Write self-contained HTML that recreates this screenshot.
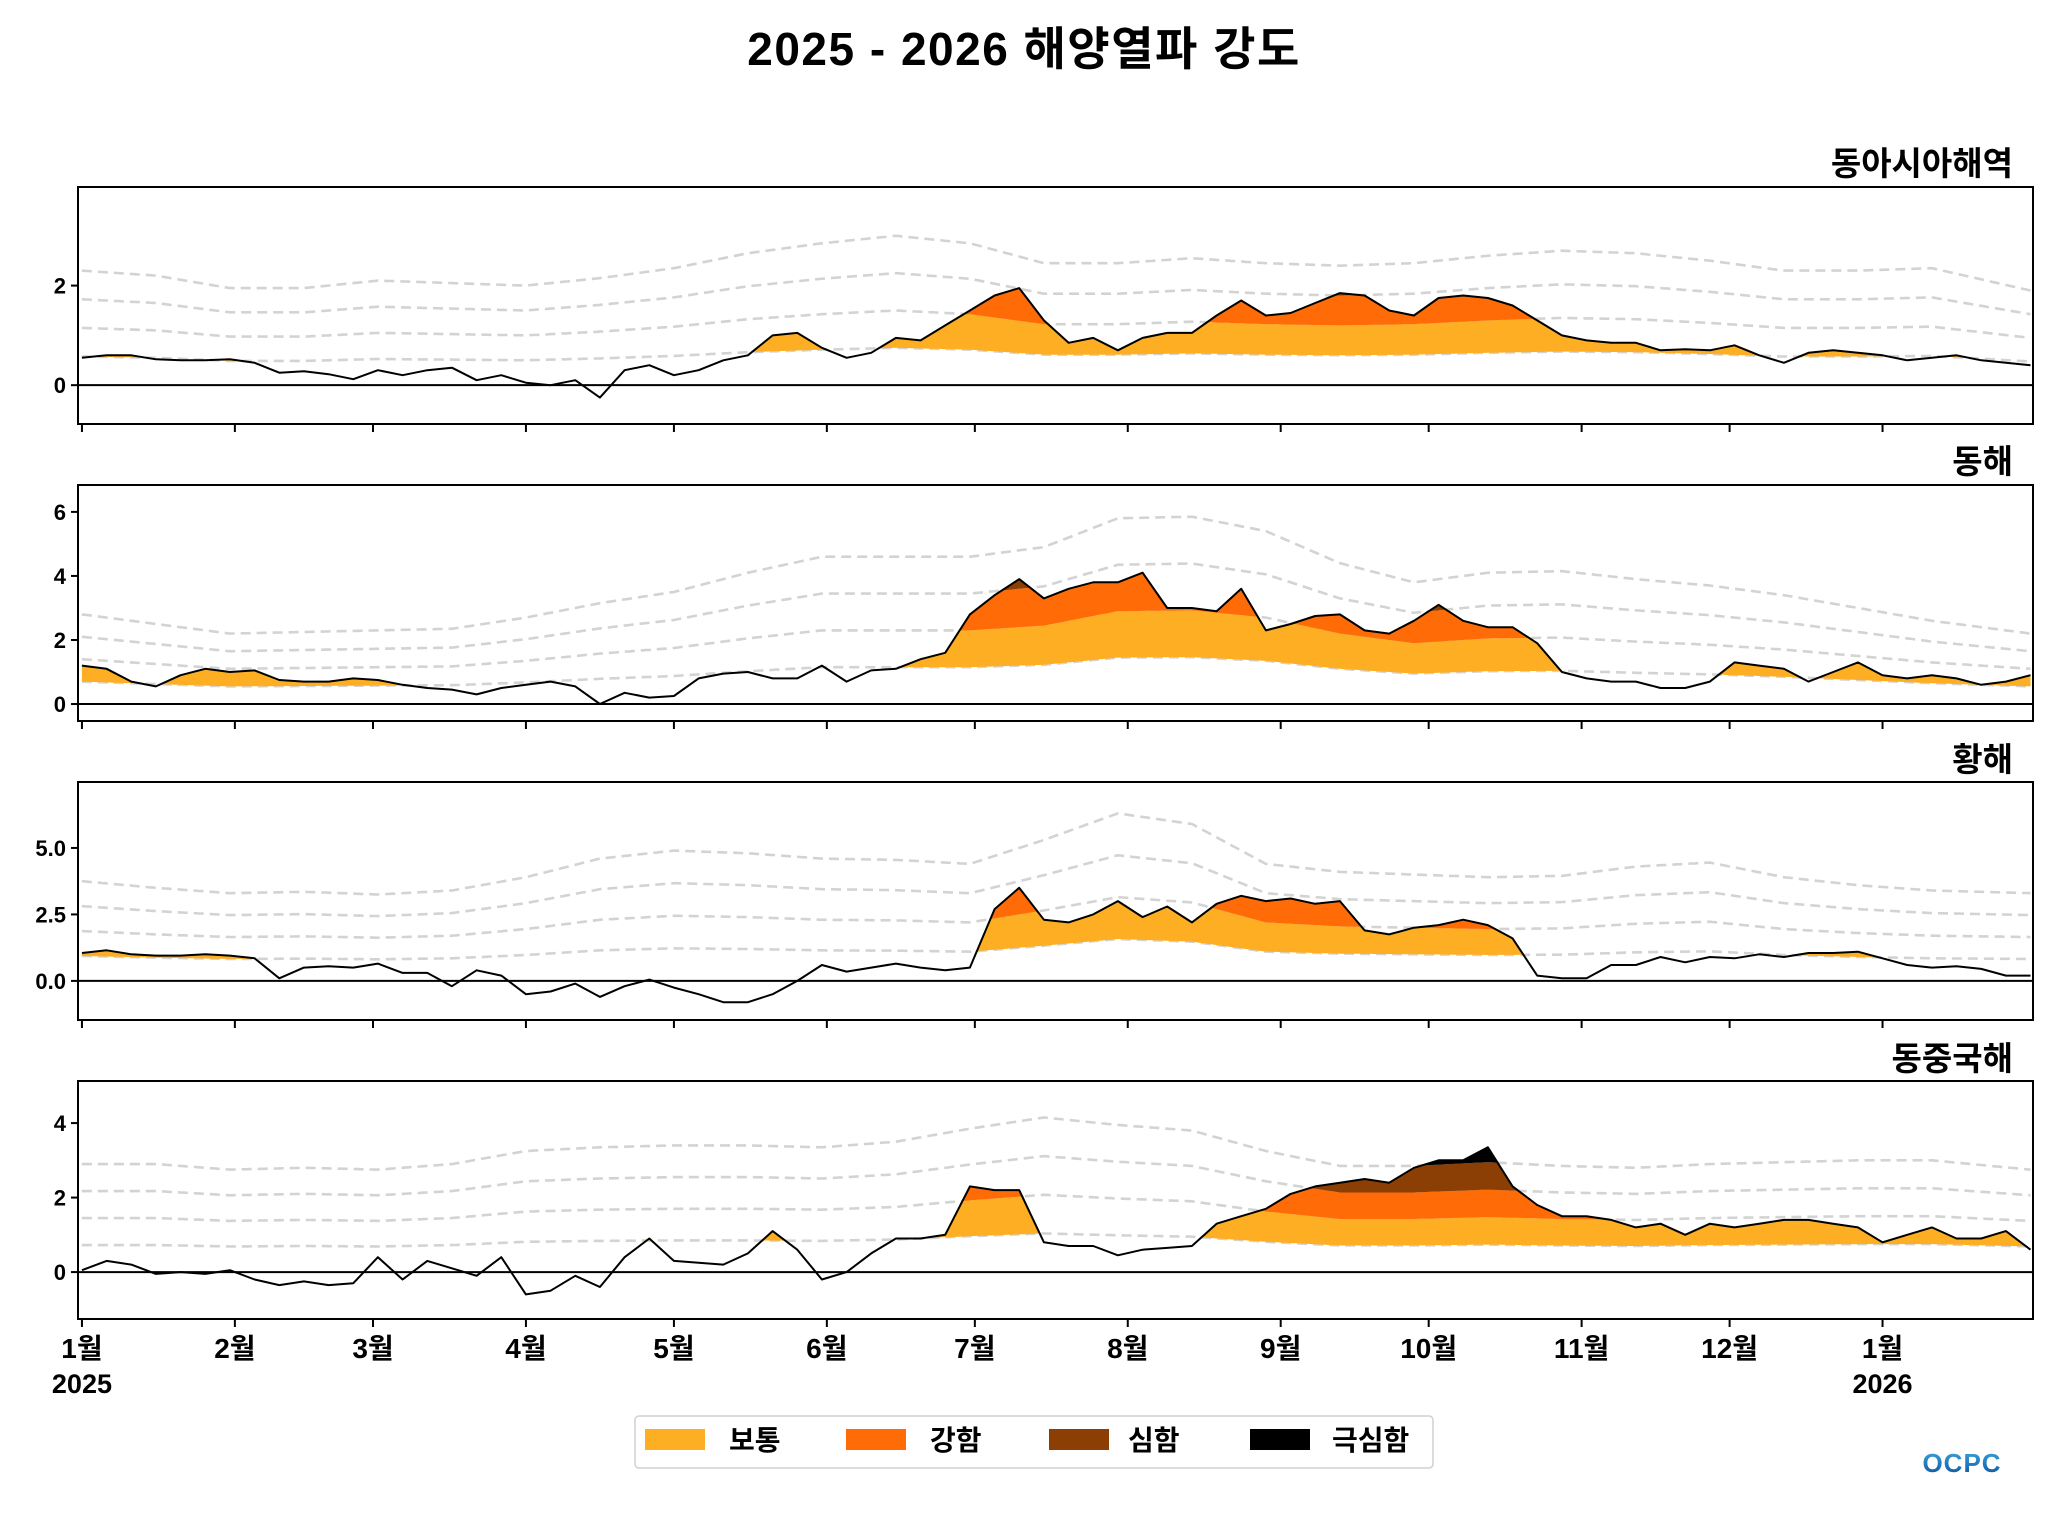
<!DOCTYPE html>
<html><head><meta charset="utf-8">
<style>
html,body{margin:0;padding:0;background:#fff;}
svg{display:block;font-family:"Liberation Sans","Noto Sans CJK KR",sans-serif;}
</style></head>
<body>
<svg id="chart" width="2048" height="1536" viewBox="0 0 2048 1536" xmlns="http://www.w3.org/2000/svg">
<rect width="2048" height="1536" fill="#fff"/>
<text x="1024" y="65" text-anchor="middle" font-size="46" font-weight="bold" letter-spacing="1.5">2025 - 2026 해양열파 강도</text>
<g id="panels"></g>
<g>
<rect x="635" y="1416" width="798" height="52" rx="4" fill="#fff" stroke="#d0d0d0" stroke-width="1.5"/>
<rect x="645" y="1429" width="60" height="21" fill="#FDAE22"/>
<text x="729" y="1450" font-size="28" font-weight="bold">보통</text>
<rect x="846" y="1429" width="60" height="21" fill="#FE6B07"/>
<text x="930" y="1450" font-size="28" font-weight="bold">강함</text>
<rect x="1049" y="1429" width="60" height="21" fill="#8B3F05"/>
<text x="1128" y="1450" font-size="28" font-weight="bold">심함</text>
<rect x="1250" y="1429" width="60" height="21" fill="#000"/>
<text x="1332" y="1450" font-size="28" font-weight="bold">극심함</text>
</g>
<defs><linearGradient id="lg" x1="0" y1="0" x2="0" y2="1"><stop offset="0" stop-color="#3fa9e0"/><stop offset="1" stop-color="#0a4f9e"/></linearGradient></defs>
<text x="1962" y="1472" text-anchor="middle" font-size="26" font-weight="bold" fill="url(#lg)" letter-spacing="1">OCPC</text>
</svg>
<script>
// ---------- data ----------
const tDays = [0,15,30,45,60,75,90,105,120,135,150,165,180,195,210,225,240,255,270,285,300,315,330,345,360,375,395];
const aDays = [0,5,10,15,20,25,30,35,40,45,50,55,60,65,70,75,80,85,90,95,100,105,110,115,120,125,130,135,140,145,150,155,160,165,170,175,180,185,190,195,200,205,210,215,220,225,230,235,240,245,250,255,260,265,270,275,280,285,290,295,300,305,310,315,320,325,330,335,340,345,350,355,360,365,370,375,380,385,390,395];
const panelNames = ["동아시아해역","동해","황해","동중국해"];
// top dashed line (4x threshold) per tDays
const topLine1 = [2.3,2.2,1.95,1.95,2.1,2.05,2.0,2.15,2.35,2.65,2.85,3.0,2.85,2.45,2.45,2.55,2.45,2.4,2.45,2.6,2.7,2.65,2.5,2.3,2.3,2.35,1.9];
const topLine2 = [2.8,2.5,2.2,2.25,2.3,2.35,2.7,3.15,3.5,4.1,4.6,4.6,4.6,4.9,5.8,5.85,5.4,4.4,3.8,4.1,4.15,3.9,3.7,3.4,3.0,2.6,2.2];
const topLine3 = [3.75,3.5,3.3,3.35,3.25,3.4,3.9,4.6,4.9,4.8,4.6,4.55,4.4,5.3,6.3,5.9,4.4,4.1,4.0,3.9,3.95,4.3,4.45,3.9,3.6,3.4,3.3];
const topLine4 = [2.9,2.9,2.75,2.8,2.75,2.9,3.25,3.35,3.4,3.4,3.35,3.5,3.85,4.15,3.95,3.8,3.25,2.85,2.85,2.95,2.85,2.8,2.9,2.95,3.0,3.0,2.75];
// SST anomaly per aDays
const anom1 = [.55,.6,.6,.52,.5,.5,.52,.45,.25,.28,.22,.12,.3,.2,.3,.35,.1,.2,.05,0,.1,-.25,.3,.4,.2,.3,.5,.6,1.0,1.05,.75,.55,.65,.95,.9,1.2,1.5,1.8,1.95,1.3,.85,.95,.7,.95,1.05,1.05,1.4,1.7,1.4,1.45,1.65,1.85,1.8,1.5,1.4,1.75,1.8,1.75,1.6,1.3,1.0,.9,.85,.85,.7,.72,.7,.8,.6,.45,.65,.7,.65,.6,.5,.55,.6,.5,.45,.4];
const anom2 = [1.2,1.1,.7,.55,.9,1.1,1.0,1.05,.75,.7,.7,.8,.75,.6,.5,.45,.3,.5,.6,.7,.55,0,.35,.2,.25,.8,.95,1.0,.8,.8,1.2,.7,1.05,1.1,1.4,1.6,2.8,3.4,3.9,3.3,3.6,3.8,3.8,4.1,3.0,3.0,2.9,3.6,2.3,2.5,2.75,2.8,2.3,2.2,2.6,3.1,2.6,2.4,2.4,1.9,1.0,.8,.7,.7,.5,.5,.7,1.3,1.2,1.1,.7,1.0,1.3,.9,.8,.9,.8,.6,.7,.9];
const anom3 = [1.05,1.15,1.0,.95,.95,1.0,.95,.85,.1,.5,.55,.5,.65,.3,.3,-.2,.4,.2,-.5,-.4,-.1,-.6,-.2,.05,-.25,-.5,-.8,-.8,-.5,0,.6,.35,.5,.65,.5,.4,.5,2.7,3.5,2.3,2.2,2.5,3.0,2.4,2.8,2.2,2.9,3.2,3.0,3.1,2.9,3.0,1.9,1.75,2.0,2.1,2.3,2.1,1.6,.2,.1,.1,.6,.6,.9,.7,.9,.85,1.0,.9,1.05,1.05,1.1,.85,.6,.5,.55,.45,.2,.2];
const anom4 = [.05,.3,.2,-.05,0,-.05,.05,-.2,-.35,-.25,-.35,-.3,.4,-.2,.3,.1,-.1,.4,-.6,-.5,-.1,-.4,.4,.9,.3,.25,.2,.5,1.1,.6,-.2,0,.5,.9,.9,1.0,2.3,2.2,2.2,.8,.7,.7,.45,.6,.65,.7,1.3,1.5,1.7,2.1,2.3,2.4,2.5,2.4,2.8,3.0,3.0,3.35,2.3,1.8,1.5,1.5,1.4,1.2,1.3,1.0,1.3,1.2,1.3,1.4,1.4,1.3,1.2,.8,1.0,1.2,.9,.9,1.1,.6];
const yTicks1 = [0,2], yTicks2 = [0,2,4,6], yTicks3 = [0,2.5,5.0], yTicks4 = [0,2,4];
const yTickLabels3 = ["0.0","2.5","5.0"];
const monthDays = [0,31,59,90,120,151,181,212,243,273,304,334,365];
const monthLabels = ["1월","2월","3월","4월","5월","6월","7월","8월","9월","10월","11월","12월","1월"];

// ---------- layout ----------
const X0=78, X1=2033, DAY0=-0.8, DAY1=395.5;
const xs = d => X0 + (d-DAY0)/(DAY1-DAY0)*(X1-X0);
const panels = [
 {top:187,bot:424,ymin:-0.78,ymax:3.98,tl:topLine1,an:anom1,ticks:yTicks1,labels:null,ty:163},
 {top:485,bot:721,ymin:-0.53,ymax:6.84,tl:topLine2,an:anom2,ticks:yTicks2,labels:null,ty:461},
 {top:782,bot:1020,ymin:-1.47,ymax:7.48,tl:topLine3,an:anom3,ticks:yTicks3,labels:yTickLabels3,ty:759},
 {top:1081,bot:1319,ymin:-1.26,ymax:5.13,tl:topLine4,an:anom4,ticks:yTicks4,labels:null,ty:1058}
];
const colors=["#FDAE22","#FE6B07","#8B3F05","#000000"];
const NS="http://www.w3.org/2000/svg";
function el(tag,attrs,parent){const e=document.createElementNS(NS,tag);for(const k in attrs)e.setAttribute(k,attrs[k]);parent.appendChild(e);return e;}
function interp(days,vals,d){if(d<=days[0])return vals[0];for(let i=1;i<days.length;i++){if(d<=days[i]){const t=(d-days[i-1])/(days[i]-days[i-1]);return vals[i-1]+t*(vals[i]-vals[i-1]);}}return vals[vals.length-1];}
const root=document.getElementById('panels');
panels.forEach((p,pi)=>{
  const ys=v=>p.bot-(v-p.ymin)/(p.ymax-p.ymin)*(p.bot-p.top);
  const g=el('g',{},root);
  
  
  const clipId='clip'+pi;
  const cp=el('clipPath',{id:clipId},g);
  el('rect',{x:X0,y:p.top,width:X1-X0,height:p.bot-p.top},cp);
  const inner=el('g',{'clip-path':'url(#'+clipId+')'},g);
  const fd=[];for(let d=0;d<=395;d+=0.5)fd.push(d);
  const T=fd.map(d=>interp(tDays,p.tl,d)/4);
  const A=fd.map(d=>interp(aDays,p.an,d));
  for(let k=1;k<=4;k++){
    const pts=fd.map((d,i)=>xs(d).toFixed(1)+','+ys(k*T[i]).toFixed(1)).join(' ');
    const l=el('polyline',{points:pts,fill:'none',stroke:'#d3d3d3','stroke-width':2.6,'stroke-dasharray':'10 6'},inner);
    
    
  }
  for(let k=1;k<=4;k++){
    const lower=fd.map((d,i)=>k*T[i]);
    const upper=fd.map((d,i)=>{const hi=k<4?(k+1)*T[i]:1e9;return Math.max(lower[i],Math.min(A[i],hi));});
    let path='';
    fd.forEach((d,i)=>{path+=(i?'L':'M')+xs(d).toFixed(1)+','+ys(upper[i]).toFixed(1);});
    for(let i=fd.length-1;i>=0;i--)path+='L'+xs(fd[i]).toFixed(1)+','+ys(lower[i]).toFixed(1);
    path+='Z';
    const f=el('path',{d:path,fill:colors[k-1],stroke:'none'},inner);
    
    
  }
  const z=el('line',{x1:X0,x2:X1,y1:ys(0),y2:ys(0),stroke:'#000','stroke-width':2},inner);
  
  
  const ap=aDays.map((d,i)=>xs(d).toFixed(1)+','+ys(p.an[i]).toFixed(1)).join(' ');
  const al=el('polyline',{points:ap,fill:'none',stroke:'#000','stroke-width':2,'stroke-linejoin':'round'},inner);
  
  
  const fr=el('rect',{x:X0,y:p.top,width:X1-X0,height:p.bot-p.top,fill:'none',stroke:'#000','stroke-width':2},g);
  
  
  p.ticks.forEach((v,i)=>{
    el('line',{x1:X0-7,x2:X0,y1:ys(v),y2:ys(v),stroke:'#000','stroke-width':2},g);
    const t=el('text',{x:X0-12,y:ys(v)+8,'text-anchor':'end','font-size':22,'font-weight':'bold'},g);
    
    
    t.textContent=p.labels?p.labels[i]:String(v);
  });
  monthDays.forEach(d=>{el('line',{x1:xs(d),x2:xs(d),y1:p.bot,y2:p.bot+8,stroke:'#000','stroke-width':2},g);});
  const tt=el('text',{x:X1-20,y:p.ty+12,'text-anchor':'end','font-size':33,'font-weight':'bold'},g);
  
  
  tt.textContent=panelNames[pi];
});
monthDays.forEach((d,i)=>{
  const t=el('text',{x:xs(d),y:1358,'text-anchor':'middle','font-size':28,'font-weight':'bold'},root);
  
  
  t.textContent=monthLabels[i];
});
[[0,'2025'],[365,'2026']].forEach(([d,s])=>{
  const t=el('text',{x:xs(d),y:1393,'text-anchor':'middle','font-size':27,'font-weight':'bold'},root);
  
  
  t.textContent=s;
});
</script>
</body></html>
